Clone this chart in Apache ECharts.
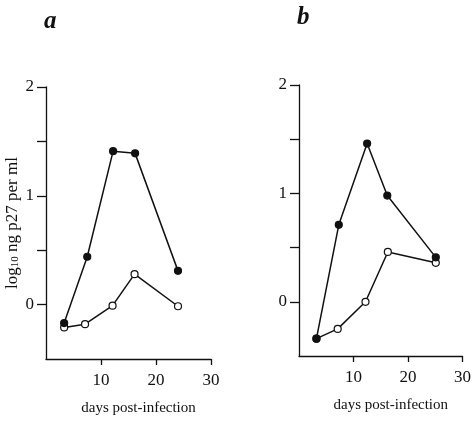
<!DOCTYPE html>
<html>
<head>
<meta charset="utf-8">
<script src="https://cdn.jsdelivr.net/npm/echarts@6/dist/echarts.min.js"></script>
<style>html,body{margin:0;padding:0;background:#fff}#c{width:474px;height:426px}</style>
</head>
<body>
<div id="c"></div>
<script>
// Panel a
const aFilledX = [3.3, 7.5, 12.2, 16.2, 24.0];
const aFilledY = [-0.17, 0.44, 1.41, 1.39, 0.31];
const aOpenX = [3.3, 7.1, 12.1, 16.1, 24.0];
const aOpenY = [-0.21, -0.18, -0.01, 0.28, -0.015];
// Panel b
const bFilledX = [3.2, 7.3, 12.5, 16.2, 25.1];
const bFilledY = [-0.34, 0.71, 1.46, 0.98, 0.41];
const bOpenX = [3.2, 7.1, 12.2, 16.3, 25.1];
const bOpenY = [-0.34, -0.25, 0.0, 0.46, 0.36];
const xTickLabels = [10, 20, 30];
const yTickLabels = [0, 1, 2];
const yTicks = [0, 0.5, 1, 1.5, 2];
const panelLetters = ['a', 'b'];
const xName = 'days post-infection';

const font = 'Liberation Serif';
const pair = (xs, ys) => xs.map((x, i) => [x, ys[i]]);

function xAxis(gi) {
  return {
    type: 'value', gridIndex: gi, min: 0, max: 30,
    name: xName, nameLocation: 'middle', nameGap: 42,
    nameTextStyle: { fontFamily: font, fontSize: 15, color: '#111', padding: [0, 0, 0, 20] },
    axisLine: { onZero: false, lineStyle: { color: '#111', width: 1.3 } },
    axisTick: { customValues: xTickLabels, length: 6, lineStyle: { color: '#111', width: 1.3 } },
    axisLabel: { customValues: xTickLabels, margin: 13, fontFamily: font, fontSize: 17, color: '#111' },
    splitLine: { show: false }
  };
}
function yAxis(gi, withName) {
  return {
    type: 'value', gridIndex: gi, min: -0.5, max: 2,
    name: withName ? '{a|log}{s|10}{a| ng p27 per ml}' : '',
    nameLocation: 'middle', nameGap: 25, nameRotate: 90,
    nameTextStyle: {
      rich: {
        a: { fontFamily: font, fontSize: 17, color: '#111' },
        s: { fontFamily: font, fontSize: 11, color: '#111', verticalAlign: 'bottom', padding: [6, 0, 0, 0] }
      }
    },
    axisLine: { show: true, onZero: false, lineStyle: { color: '#111', width: 1.3 } },
    axisTick: { show: true, customValues: yTicks, length: 9, lineStyle: { color: '#111', width: 1.3 } },
    axisLabel: { customValues: yTickLabels, margin: 12, fontFamily: font, fontSize: 17, color: '#111' },
    splitLine: { show: false }
  };
}
function series(gi, data, filled) {
  return {
    type: 'line', xAxisIndex: gi, yAxisIndex: gi, data: data,
    symbol: 'circle', symbolSize: 7,
    itemStyle: { color: filled ? '#111' : '#fff', borderColor: '#111', borderWidth: 1.2 },
    lineStyle: { color: '#111', width: 1.5 },
    z: filled ? 3 : 2, animation: false
  };
}

const chart = echarts.init(document.getElementById('c'));
chart.setOption({
  animation: false,
  title: [
    { text: panelLetters[0], left: 39, top: 4, textStyle: { fontFamily: font, fontSize: 25, fontWeight: 'bold', fontStyle: 'italic', color: '#111' } },
    { text: panelLetters[1], left: 292, top: 0, textStyle: { fontFamily: font, fontSize: 25, fontWeight: 'bold', fontStyle: 'italic', color: '#111' } }
  ],
  grid: [
    { left: 46, top: 87, width: 165, height: 272 },
    { left: 299, top: 85, width: 166, height: 271 }
  ],
  xAxis: [xAxis(0), xAxis(1)],
  yAxis: [yAxis(0, true), yAxis(1, false)],
  series: [
    series(0, pair(aOpenX, aOpenY), false),
    series(0, pair(aFilledX, aFilledY), true),
    series(1, pair(bOpenX, bOpenY), false),
    series(1, pair(bFilledX, bFilledY), true)
  ]
});
</script>
</body>
</html>
